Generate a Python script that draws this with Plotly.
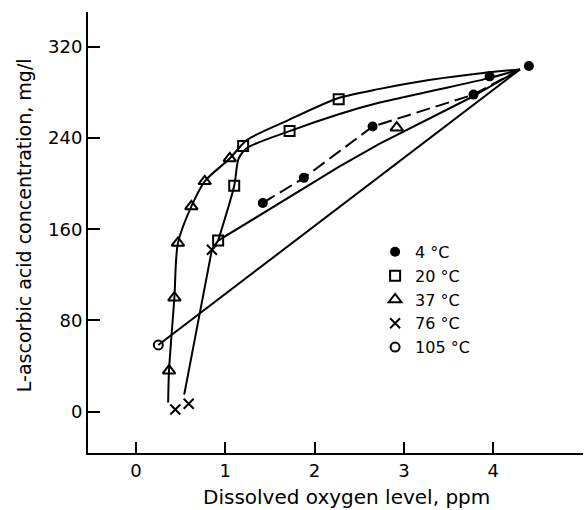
import plotly.graph_objects as go

# ---- data ----
labels = ["4 °C", "20 °C", "37 °C", "76 °C", "105 °C"]

# measured points (markers)
x4 = [1.42, 1.88, 2.65, 3.78, 3.96, 4.40]
y4 = [183, 205, 250, 278, 294, 303]
x20 = [0.92, 1.10, 1.20, 1.72, 2.27]
y20 = [150, 198, 233, 246, 274]
x37 = [0.37, 0.43, 0.47, 0.62, 0.77, 1.05, 2.92]
y37 = [36, 100, 148, 180, 202, 222, 249]
x76 = [0.44, 0.59, 0.85]
y76 = [2, 7, 142]
x105 = [0.25]
y105 = [58.5]

# drawn curves
c4x = [1.42, 1.88, 2.65, 3.78, 4.30]
c4y = [183, 205, 250, 278, 300]
c20x = [0.92, 1.10, 1.15, 1.24, 1.72, 2.28, 2.73, 3.30, 3.93, 4.30]
c20y = [150, 198, 222, 231, 246, 261, 271, 281, 292, 300]
c37x = [0.36, 0.37, 0.43, 0.47, 0.62, 0.77, 1.05, 1.24, 1.69, 2.27, 2.73, 3.30, 3.89, 4.30]
c37y = [8, 36, 100, 148, 180, 202, 222, 238, 255, 275, 283, 291, 297, 300]
c76x = [0.54, 0.85, 0.92, 1.50, 2.28, 2.73, 3.74, 4.30]
c76y = [15, 142, 150, 178, 215, 235, 275, 300]
c105x = [0.25, 4.30]
c105y = [58.5, 300]

x_ticks = [0, 1, 2, 3, 4]
y_ticks = [0, 80, 160, 240, 320]

FONT = "DejaVu Sans"
fig = go.Figure()

for cx, cy, dash, shape in [(c4x, c4y, "14px,6px", "linear"), (c20x, c20y, "solid", "spline"),
                            (c37x, c37y, "solid", "spline"), (c76x, c76y, "solid", "linear"),
                            (c105x, c105y, "solid", "linear")]:
    fig.add_trace(go.Scatter(x=cx, y=cy, mode="lines",
                             line=dict(color="black", width=2, dash=dash, shape=shape, smoothing=0.8),
                             showlegend=False, hoverinfo="skip"))

markers = [
    (x4, y4, dict(symbol="circle", size=10, color="black")),
    (x20, y20, dict(symbol="square-open", size=10, color="black", line=dict(width=2))),
    (x37, y37, dict(symbol="triangle-up-open", size=11, color="black", line=dict(width=2))),
    (x76, y76, dict(symbol="x-thin-open", size=10, color="black", line=dict(width=2))),
    (x105, y105, dict(symbol="circle-open", size=9, color="black", line=dict(width=2))),
]
for (mx, my, mk), name in zip(markers, labels):
    fig.add_trace(go.Scatter(x=mx, y=my, mode="markers", marker=mk, name=name))

fig.update_layout(
    width=586, height=510,
    margin=dict(l=88, r=3, t=12, b=57),
    paper_bgcolor="white", plot_bgcolor="white",
    font=dict(family=FONT, size=16, color="black"),
    showlegend=True,
    legend=dict(x=0.58, y=0.4945, xanchor="left", yanchor="top",
                font=dict(family=FONT, size=16, color="black"),
                bgcolor="rgba(0,0,0,0)", itemwidth=30, tracegroupgap=0),
    xaxis=dict(range=[-0.5375, 5.006], tickvals=x_ticks, ticktext=[str(v) for v in x_ticks],
               showgrid=False, zeroline=False, showline=True, linecolor="black", linewidth=2,
               ticks="inside", ticklen=11, tickwidth=2, tickcolor="black",
               tickfont=dict(family=FONT, size=18)),
    yaxis=dict(range=[-36.2, 350.4], tickvals=y_ticks, ticktext=[str(v) for v in y_ticks],
               showgrid=False, zeroline=False, showline=True, linecolor="black", linewidth=2,
               ticks="inside", ticklen=12, tickwidth=2, tickcolor="black",
               tickfont=dict(family=FONT, size=18)),
    annotations=[
        dict(text="Dissolved oxygen level, ppm", xref="paper", yref="paper",
             x=0.523, y=-0.0998, xanchor="center", yanchor="middle", showarrow=False,
             font=dict(family=FONT, size=20, color="black")),
        dict(text="L-ascorbic acid concentration, mg/l", xref="paper", yref="paper",
             x=-0.129, y=0.517, xanchor="center", yanchor="middle", textangle=-90, showarrow=False,
             font=dict(family=FONT, size=19, color="black")),
    ],
)

fig.write_html("out.html")
